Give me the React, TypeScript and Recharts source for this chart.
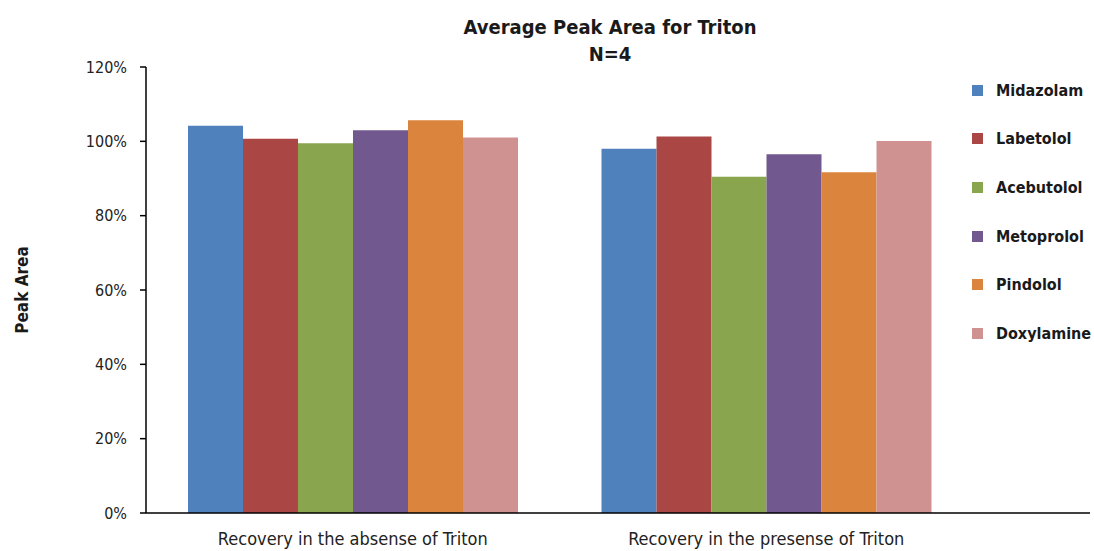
import { BarChart, Bar, XAxis, YAxis, Legend } from "recharts";

const groups = ["Recovery in the absense of Triton", "Recovery in the presense of Triton"];

const compounds = ["Midazolam", "Labetolol", "Acebutolol", "Metoprolol", "Pindolol", "Doxylamine"];

const colors = ["#4f81bd", "#aa4643", "#89a54e", "#71588f", "#db843d", "#d09291"];

const absense = [104.2, 100.7, 99.5, 103.0, 105.7, 101.0];

const presense = [98.0, 101.3, 90.5, 96.5, 91.7, 100.1];

const yTicks = [0, 20, 40, 60, 80, 100, 120];

const font = "'DejaVu Sans Condensed', 'DejaVu Sans', sans-serif";

const data = groups.map((g, gi) => {
    const row: Record<string, string | number> = { group: g };
    compounds.forEach((c, ci) => {
        row[c] = gi === 0 ? absense[ci] : presense[ci];
    });
    return row;
});

function LegendList() {
    return (
        <div style={{ fontFamily: font }}>
            {compounds.map((c, i) => (
                <div
                    key={c}
                    style={{ display: "flex", alignItems: "center", height: 48.6 }}
                >
                    <span
                        style={{
                            width: 11,
                            height: 11,
                            background: colors[i],
                            display: "inline-block",
                            marginRight: 13,
                        }}
                    />
                    <span style={{ fontSize: 16, fontWeight: 600, color: "#1a1a1a" }}>
                        {c}
                    </span>
                </div>
            ))}
        </div>
    );
}

export default function App() {
    return (
        <div
            style={{
                position: "absolute",
                left: 0,
                top: 0,
                width: 1094,
                height: 551,
                background: "#fff",
                fontFamily: font,
            }}
        >
            <div
                style={{
                    position: "absolute",
                    left: 360,
                    width: 500,
                    top: 14,
                    textAlign: "center",
                    fontSize: 20,
                    fontWeight: 600,
                    lineHeight: "27px",
                    color: "#1a1a1a",
                }}
            >
                Average Peak Area for Triton
                <br />
                N=4
            </div>
            <div
                style={{
                    position: "absolute",
                    left: 22,
                    top: 290,
                    transform: "translate(-50%, -50%) rotate(-90deg)",
                    fontSize: 17,
                    fontWeight: 600,
                    whiteSpace: "nowrap",
                    color: "#1a1a1a",
                }}
            >
                Peak Area
            </div>
            <BarChart
                width={1094}
                height={551}
                data={data}
                margin={{ top: 67, right: 4, bottom: 0, left: 0 }}
                barGap={0}
                barCategoryGap={42}
            >
                <XAxis
                    dataKey="group"
                    height={38}
                    padding={{ left: 0, right: 117 }}
                    axisLine={{ stroke: "#000", strokeWidth: 1.5 }}
                    tickLine={false}
                    tickSize={0}
                    tickMargin={19}
                    tick={{ fill: "#222", fontSize: 18, fontFamily: font }}
                />
                <YAxis
                    width={146}
                    domain={[0, 120]}
                    ticks={yTicks}
                    tickFormatter={(v) => `${v}%`}
                    axisLine={{ stroke: "#000", strokeWidth: 1.5 }}
                    tickLine={{ stroke: "#000", strokeWidth: 1.5 }}
                    tickSize={6}
                    tickMargin={13}
                    tick={{ fill: "#222", fontSize: 16, fontFamily: font }}
                />
                <Legend
                    layout="vertical"
                    align="center"
                    verticalAlign="middle"
                    wrapperStyle={{ left: 972, top: 66, width: 122 }}
                    content={() => <LegendList />}
                />
                {compounds.map((c, i) => (
                    <Bar
                        key={c}
                        dataKey={c}
                        fill={colors[i]}
                        isAnimationActive={false}
                    />
                ))}
            </BarChart>
        </div>
    );
}
